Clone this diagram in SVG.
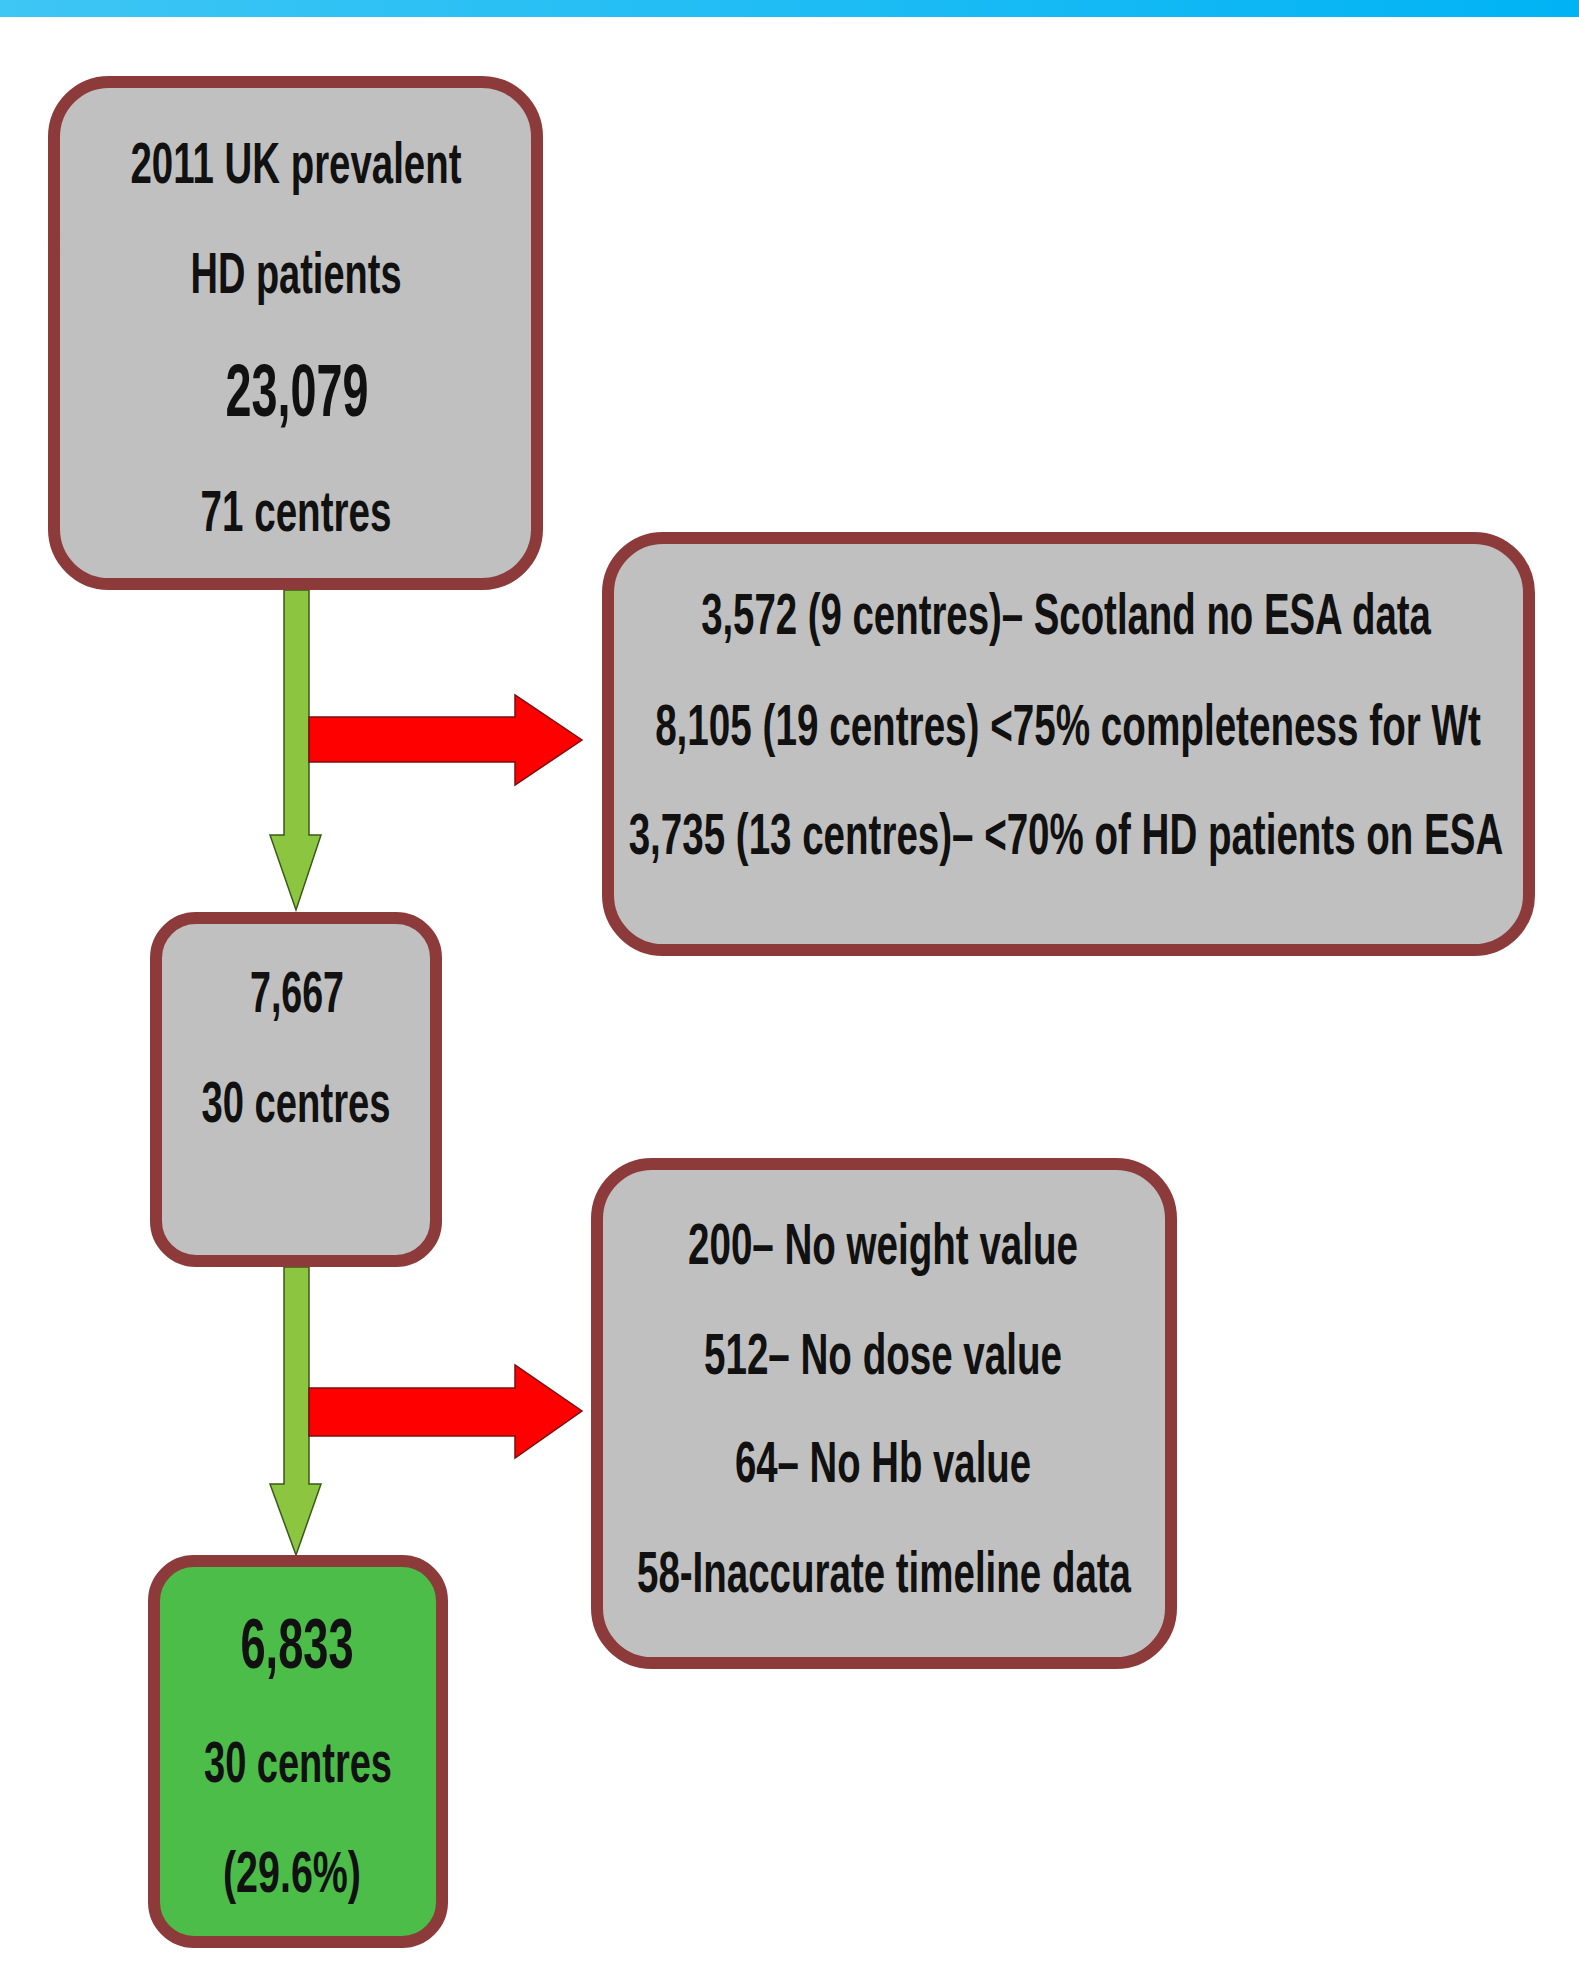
<svg xmlns="http://www.w3.org/2000/svg" width="1579" height="1961" viewBox="0 0 1579 1961">
<defs>
<linearGradient id="bar" x1="0" y1="0" x2="1" y2="0">
<stop offset="0" stop-color="#3ec6f4"/>
<stop offset="1" stop-color="#00b3f4"/>
</linearGradient>
<style>
.box{fill:#c0c0c0;stroke:#8c3a3a;stroke-width:12}
.gbox{fill:#4dbd4a;stroke:#8c3a3a;stroke-width:12}
.t{font-family:"Liberation Sans",Arial,sans-serif;font-weight:bold;font-size:57px;fill:#111;text-anchor:middle}
.big{font-size:74px}
.ga{fill:#8cc640;stroke:#3a5a1a;stroke-width:1.5}
.ra{fill:#ff0000;stroke:#7a1010;stroke-width:1.5}
</style>
</defs>
<rect x="0" y="0" width="1579" height="1961" fill="#ffffff"/>
<rect x="0" y="0" width="1579" height="17" fill="url(#bar)"/>

<g id="connectors">
<path class="ga" d="M284,590 L309,590 L309,835 L321,835 L296,910 L270,835 L284,835 Z"/>
<path class="ra" d="M309,717 L515,717 L515,695 L582,740 L515,785 L515,762 L309,762 Z"/>
<path class="ga" d="M284,1267 L309,1267 L309,1484 L321,1484 L296,1555 L270,1484 L284,1484 Z"/>
<path class="ra" d="M309,1388 L515,1388 L515,1365 L582,1411 L515,1458 L515,1436 L309,1436 Z"/>
</g>

<g id="n1">
<rect class="box" x="54" y="82" width="483" height="502" rx="55"/>
<text class="t" x="296" y="183" textLength="331" lengthAdjust="spacingAndGlyphs">2011 UK prevalent</text>
<text class="t" x="296" y="293" textLength="211" lengthAdjust="spacingAndGlyphs">HD patients</text>
<text class="t big" x="297" y="416" textLength="143" lengthAdjust="spacingAndGlyphs">23,079</text>
<text class="t" x="296" y="531" textLength="191" lengthAdjust="spacingAndGlyphs">71 centres</text>
</g>

<g id="n2">
<rect class="box" x="608" y="538" width="921" height="412" rx="55"/>
<text class="t" transform="translate(1066,634) scale(0.673,1)" x="0" y="0">3,572 (9 centres)– Scotland no ESA data</text>
<text class="t" transform="translate(1068,745) scale(0.678,1)" x="0" y="0">8,105 (19 centres) &lt;75% completeness for Wt</text>
<text class="t" transform="translate(1066,854) scale(0.676,1)" x="0" y="0">3,735 (13 centres)– &lt;70% of HD patients on ESA</text>
</g>

<g id="n3">
<rect class="box" x="156" y="918" width="280" height="343" rx="40"/>
<text class="t" x="297" y="1012" textLength="94" lengthAdjust="spacingAndGlyphs">7,667</text>
<text class="t" x="296" y="1122" textLength="189" lengthAdjust="spacingAndGlyphs">30 centres</text>
</g>

<g id="n4">
<rect class="box" x="597" y="1164" width="574" height="499" rx="55"/>
<text class="t" x="883" y="1264" textLength="390" lengthAdjust="spacingAndGlyphs">200– No weight value</text>
<text class="t" x="883" y="1374" textLength="358" lengthAdjust="spacingAndGlyphs">512– No dose value</text>
<text class="t" x="883" y="1482" textLength="296" lengthAdjust="spacingAndGlyphs">64– No Hb value</text>
<text class="t" x="884" y="1592" textLength="494" lengthAdjust="spacingAndGlyphs">58-Inaccurate timeline data</text>
</g>

<g id="n5">
<rect class="gbox" x="154" y="1561" width="288" height="381" rx="40"/>
<text class="t" x="297" y="1668" style="font-size:70px" textLength="113" lengthAdjust="spacingAndGlyphs">6,833</text>
<text class="t" x="298" y="1782" textLength="188" lengthAdjust="spacingAndGlyphs">30 centres</text>
<text class="t" x="292" y="1892" textLength="138" lengthAdjust="spacingAndGlyphs">(29.6%)</text>
</g>
</svg>
